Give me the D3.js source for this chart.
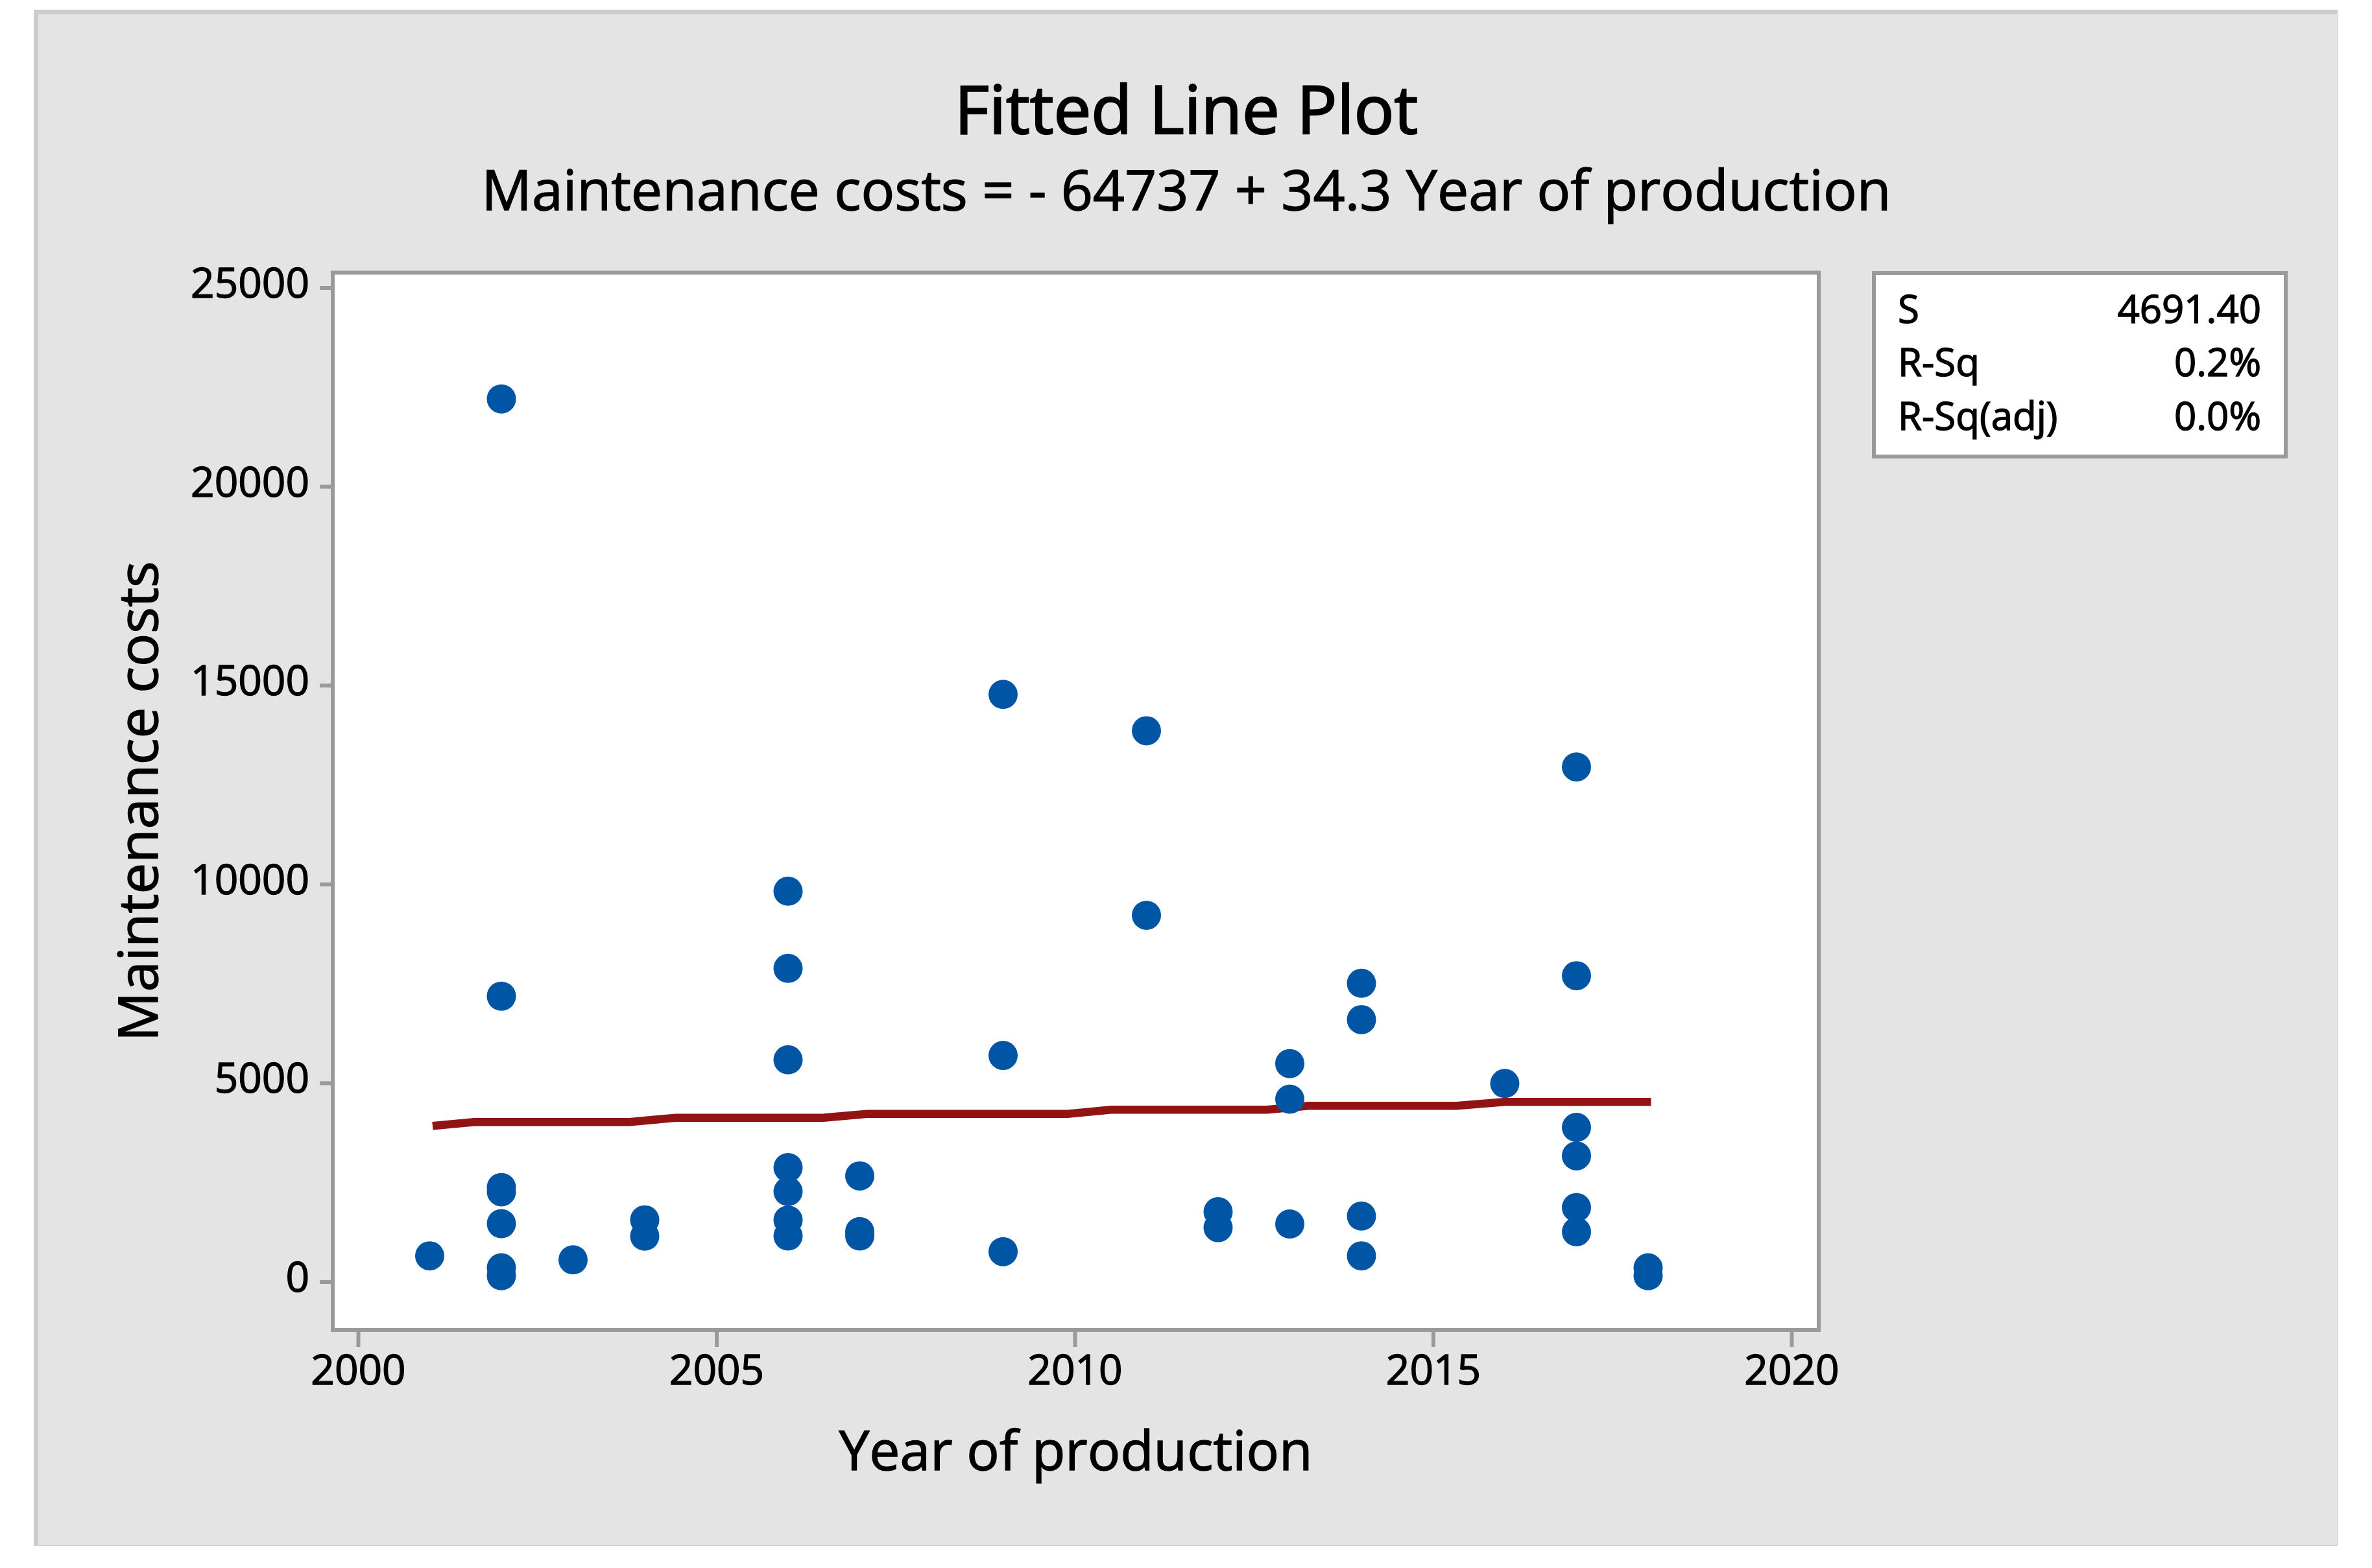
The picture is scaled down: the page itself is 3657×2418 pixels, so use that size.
<!DOCTYPE html>
<html>
<head>
<meta charset="utf-8">
<script src="https://cdn.jsdelivr.net/npm/d3@7"></script>
<style>
  html, body { margin: 0; padding: 0; background: #ffffff; }
  svg { display: block; }
  text { font-family: "Open Sans", "Noto Sans", sans-serif; fill: #000; stroke: #000; stroke-width: 1.4px; }
</style>
</head>
<body>
<svg id="chart" width="3657" height="2418"></svg>
<script>
// ---------- data ----------
const titleText = "Fitted Line Plot";
const subtitleText = "Maintenance costs = - 64737 + 34.3 Year of production";
const xLabel = "Year of production";
const yLabel = "Maintenance costs";

const pointYears = [
  2001,
  2002, 2002, 2002, 2002, 2002, 2002, 2002,
  2003,
  2004, 2004,
  2006, 2006, 2006, 2006, 2006, 2006, 2006,
  2007, 2007, 2007,
  2009, 2009, 2009,
  2011, 2011,
  2012, 2012,
  2013, 2013, 2013,
  2014, 2014, 2014, 2014,
  2016,
  2017, 2017, 2017, 2017, 2017, 2017,
  2018, 2018
];
const pointCosts = [
  650,
  22200, 7180, 2370, 2260, 1460, 350, 150,
  550,
  1555, 1145,
  9820, 7880, 5580, 2870, 2270, 1550, 1150,
  2660, 1260, 1150,
  14770, 5690, 755,
  13855, 9215,
  1760, 1360,
  5485, 4590, 1450,
  7505, 6590, 1650, 650,
  4985,
  12945, 7695, 3880, 3165, 1865, 1255,
  350, 150
];

// fitted line as drawn (stepped rendering)
const fitYears = [2001.04, 2001.62, 2003.79, 2004.43, 2006.49, 2007.10, 2009.90, 2010.51, 2012.69, 2013.26, 2015.33, 2015.99, 2018.04];
const fitCosts = [3917, 4015, 4015, 4123, 4123, 4220, 4220, 4325, 4325, 4423, 4423, 4521, 4521];

const xTicks = [2000, 2005, 2010, 2015, 2020];
const yTicks = [0, 5000, 10000, 15000, 20000, 25000];

const statLabels = ["S", "R-Sq", "R-Sq(adj)"];
const statValues = ["4691.40", "0.2%", "0.0%"];

// ---------- drawing ----------
const svg = d3.select("#chart");
const FONT = '"Open Sans", "Noto Sans", sans-serif';

// outer panel
svg.append("rect").attr("x", 52).attr("y", 15).attr("width", 3552).attr("height", 2369).attr("fill", "#cccccc");
svg.append("rect").attr("x", 59).attr("y", 22).attr("width", 3544).attr("height", 2361).attr("fill", "#e4e4e4");

const frame = { left: 513, right: 2804, top: 420.5, bottom: 2051 };

const x = d3.scaleLinear().domain([2000, 2020]).range([552, 2762]);
const y = d3.scaleLinear().domain([0, 25000]).range([1976.5, 443.5]);

// plot area
svg.append("rect")
  .attr("x", frame.left).attr("y", frame.top)
  .attr("width", frame.right - frame.left).attr("height", frame.bottom - frame.top)
  .attr("fill", "#ffffff").attr("stroke", "#9a9a9a").attr("stroke-width", 6);

// axes
const yAxis = d3.axisLeft(y).tickValues(yTicks).tickSize(17).tickFormat(d3.format("d"));
const gy = svg.append("g").attr("transform", `translate(${frame.left - 3},0)`).call(yAxis);
gy.select(".domain").remove();
gy.selectAll(".tick line").attr("stroke", "#9a9a9a").attr("stroke-width", 6);
gy.selectAll(".tick text")
  .attr("x", -33).attr("dy", null).attr("y", 15)
  .attr("font-size", 64).attr("text-anchor", "end")
  .style("font-family", FONT).attr("fill", "#000").attr("stroke", "#000").attr("stroke-width", 1.2);

const xAxis = d3.axisBottom(x).tickValues(xTicks).tickSize(23).tickFormat(d3.format("d"));
const gx = svg.append("g").attr("transform", `translate(0,${frame.bottom + 3})`).call(xAxis);
gx.select(".domain").remove();
gx.selectAll(".tick line").attr("stroke", "#9a9a9a").attr("stroke-width", 6);
gx.selectAll(".tick text")
  .attr("y", 81).attr("dy", null)
  .attr("font-size", 64).attr("text-anchor", "middle")
  .style("font-family", FONT).attr("fill", "#000").attr("stroke", "#000").attr("stroke-width", 1.2);

// fitted line
const line = d3.line().x((d, i) => x(fitYears[i])).y((d, i) => y(fitCosts[i]));
svg.append("path")
  .attr("d", line(fitYears))
  .attr("fill", "none").attr("stroke", "#921313").attr("stroke-width", 12.5)
  .attr("stroke-linecap", "butt").attr("stroke-linejoin", "miter");

// points
svg.append("g").selectAll("circle")
  .data(pointYears)
  .join("circle")
  .attr("cx", (d, i) => x(pointYears[i]))
  .attr("cy", (d, i) => y(pointCosts[i]))
  .attr("r", 22.5)
  .attr("fill", "#0055a5");

// titles
svg.append("text").attr("x", 1829).attr("y", 206).attr("text-anchor", "middle")
  .attr("font-size", 103).style("stroke-width", "2.4px").text(titleText);
svg.append("text").attr("x", 1829).attr("y", 324).attr("text-anchor", "middle")
  .attr("font-size", 86).text(subtitleText);

// axis labels
svg.append("text").attr("x", (frame.left + frame.right) / 2).attr("y", 2267).attr("text-anchor", "middle")
  .attr("font-size", 84).text(xLabel);
svg.append("text").attr("transform", `translate(243,${(frame.top + frame.bottom) / 2}) rotate(-90)`)
  .attr("text-anchor", "middle").attr("font-size", 85).text(yLabel);

// stats box
svg.append("rect").attr("x", 2889).attr("y", 421).attr("width", 635).attr("height", 283)
  .attr("fill", "#ffffff").attr("stroke", "#9a9a9a").attr("stroke-width", 6);
const statBase = [498, 580, 663];
svg.append("g").selectAll("text.lab").data(statLabels).join("text")
  .attr("class", "lab").attr("x", 2926).attr("y", (d, i) => statBase[i])
  .attr("font-size", 60).text(d => d);
svg.append("g").selectAll("text.val").data(statValues).join("text")
  .attr("class", "val").attr("x", 3486).attr("y", (d, i) => statBase[i])
  .attr("text-anchor", "end").attr("font-size", 60).text(d => d);
</script>
</body>
</html>
